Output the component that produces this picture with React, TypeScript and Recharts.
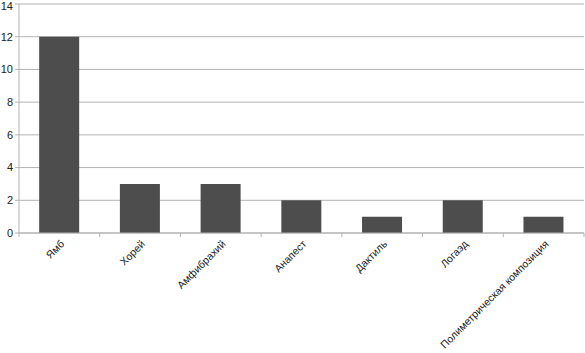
import { BarChart, Bar, CartesianGrid, XAxis, YAxis } from "recharts";

const meters = [
    "Ямб",
    "Хорей",
    "Амфибрахий",
    "Анапест",
    "Дактиль",
    "Логаэд",
    "Полиметрическая композиция",
];
const counts = [12, 3, 3, 2, 1, 2, 1];
const yTicks = [0, 2, 4, 6, 8, 10, 12, 14];

const data = meters.map((name, i) => ({ name, count: counts[i] }));

const W = 585;
const H = 353;
const AXIS_W = 19;
const RIGHT = 1;
const band = (W - AXIS_W - RIGHT) / meters.length;

function MeterTick(props: any) {
    const { x, y, payload, index } = props;
    return (
        <g>
            <line x1={x - band / 2} y1={y - 8} x2={x - band / 2} y2={y - 4} stroke="#b3b3b3" />
            {index === meters.length - 1 && (
                <line x1={x + band / 2} y1={y - 8} x2={x + band / 2} y2={y - 4} stroke="#b3b3b3" />
            )}
            <text
                transform={`translate(${x + 3},${y + 1}) rotate(-45)`}
                textAnchor="end"
                dy="0.35em"
                fontSize={10.5}
                fill="#222"
                fontFamily="Liberation Sans, Arial, sans-serif"
            >
                {payload.value}
            </text>
        </g>
    );
}

export default function App() {
    return (
        <div style={{ position: "absolute", left: 0, top: 0, background: "#fff" }}>
            <BarChart
                width={W}
                height={H}
                data={data}
                margin={{ top: 4, right: RIGHT, left: 0, bottom: 0 }}
                barCategoryGap="25%"
            >
                <CartesianGrid vertical={false} stroke="#b3b3b3" />
                <XAxis
                    dataKey="name"
                    interval={0}
                    height={120}
                    stroke="#b3b3b3"
                    tickLine={false}
                    tick={<MeterTick />}
                />
                <YAxis
                    width={AXIS_W}
                    domain={[0, 14]}
                    ticks={yTicks}
                    stroke="#b3b3b3"
                    tickSize={4}
                    tickMargin={2}
                    tick={{ fill: "#222", fontSize: 11, fontFamily: "Liberation Sans, Arial, sans-serif" }}
                />
                <Bar dataKey="count" fill="#4d4d4d" isAnimationActive={false} />
            </BarChart>
        </div>
    );
}
